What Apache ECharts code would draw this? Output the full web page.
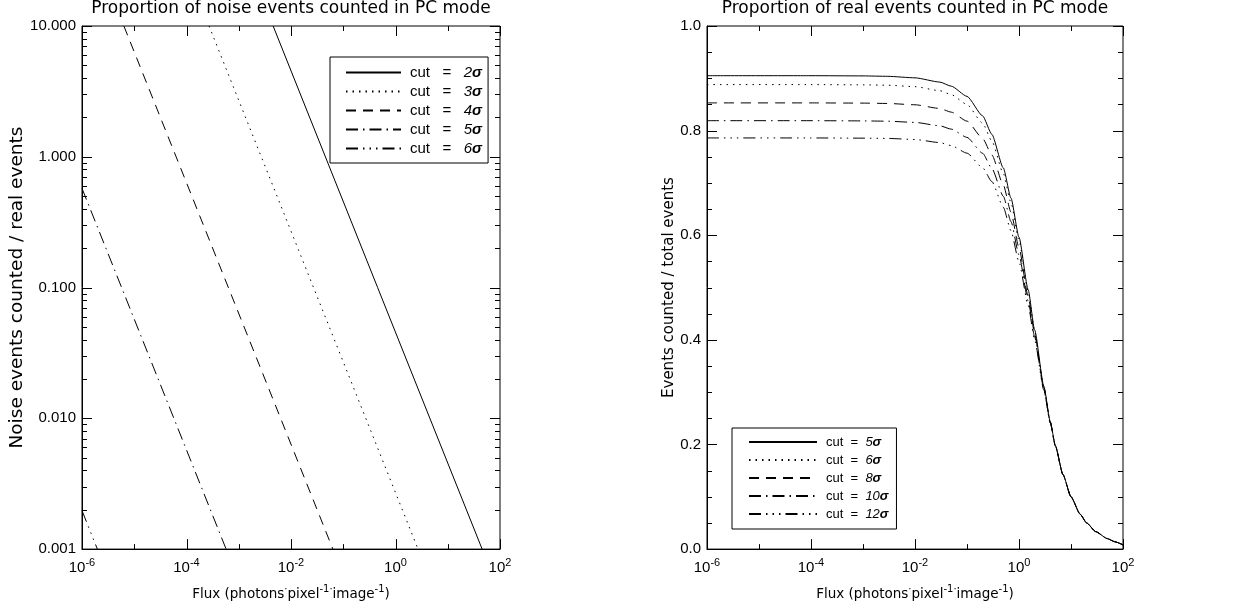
<!DOCTYPE html>
<html><head><meta charset="utf-8">
<script src="https://cdn.jsdelivr.net/npm/echarts@6/dist/echarts.min.js"></script>
<style>html,body{margin:0;padding:0;background:#fff}#c{width:1245px;height:609px}</style>
</head><body><div id="c"></div>
<script>
// ---------- data ----------
const titles = ['Proportion of noise events counted in PC mode', 'Proportion of real events counted in PC mode'];
const leftYName = 'Noise events counted / real events';
const rightYName = 'Events counted / total events';

// axis ranges
const xRange = [1e-6, 100];
const leftYRange = [0.001, 10];
const rightYRange = [0, 1];

// tick values
const xMajorTicks = [1e-6, 1e-4, 1e-2, 1, 100];
const xMinorTicks = [1e-5, 1e-3, 1e-1, 10];
const leftYMajorTicks = [0.001, 0.01, 0.1, 1, 10];
const leftYMinorTicks = [0.002,0.003,0.004,0.005,0.006,0.007,0.008,0.009,
  0.02,0.03,0.04,0.05,0.06,0.07,0.08,0.09,
  0.2,0.3,0.4,0.5,0.6,0.7,0.8,0.9,
  2,3,4,5,6,7,8,9];
const rightYMajorTicks = [0, 0.2, 0.4, 0.6, 0.8, 1.0];
const rightYMinorTicks = [0.05,0.1,0.15,0.25,0.3,0.35,0.45,0.5,0.55,0.65,0.7,0.75,0.85,0.9,0.95];

// left panel: noise / real ratio, straight lines in log-log (end points)
const noiseCuts = ['2', '3', '4', '5', '6'];
const noise2 = [[0.00455, 10], [45.5, 0.001]];
const noise3 = [[0.00027, 10], [2.7, 0.001]];
const noise4 = [[6.33e-6, 10], [0.0633, 0.001]];
const noise5 = [[1e-6, 0.573], [5.73e-4, 0.001]];
const noise6 = [[1e-6, 0.00197], [1.97e-6, 0.001]];

// right panel: fraction of real events counted
const realCuts = ['5', '6', '8', '10', '12'];
const realFlux = [1e-6, 1e-4, 1e-3, 3e-3, 0.01, 0.03, 0.05, 0.1, 0.2, 0.3, 0.5, 0.7, 1, 1.5, 2, 3, 4, 5, 7, 10, 15, 20, 30, 50, 70, 100];
const real5  = [0.905, 0.905, 0.9046, 0.9038, 0.9009, 0.8928, 0.8849, 0.8655, 0.8282, 0.7930, 0.7286, 0.6712, 0.5963, 0.4959, 0.4188, 0.3117, 0.2435, 0.1979, 0.1426, 0.1000, 0.0667, 0.0500, 0.0333, 0.0200, 0.0140, 0.0080];
const real6  = [0.888, 0.888, 0.8875, 0.8868, 0.8841, 0.8763, 0.8687, 0.8500, 0.8141, 0.7803, 0.7180, 0.6624, 0.5897, 0.4918, 0.4163, 0.3107, 0.2431, 0.1978, 0.1426, 0.1000, 0.0667, 0.0500, 0.0333, 0.0200, 0.0140, 0.0080];
const real8  = [0.853, 0.853, 0.8526, 0.8519, 0.8494, 0.8423, 0.8353, 0.8181, 0.7851, 0.7538, 0.6961, 0.6442, 0.5759, 0.4832, 0.4109, 0.3086, 0.2423, 0.1975, 0.1425, 0.1000, 0.0667, 0.0500, 0.0333, 0.0200, 0.0140, 0.0080];
const real10 = [0.819, 0.819, 0.8186, 0.8180, 0.8157, 0.8092, 0.8028, 0.7871, 0.7567, 0.7279, 0.6745, 0.6263, 0.5623, 0.4746, 0.4055, 0.3064, 0.2415, 0.1971, 0.1425, 0.0999, 0.0667, 0.0500, 0.0333, 0.0200, 0.0140, 0.0080];
const real12 = [0.786, 0.786, 0.7856, 0.7851, 0.7830, 0.7771, 0.7713, 0.7569, 0.7291, 0.7027, 0.6534, 0.6086, 0.5489, 0.4660, 0.4000, 0.3042, 0.2406, 0.1968, 0.1424, 0.0999, 0.0667, 0.0500, 0.0333, 0.0200, 0.0140, 0.0080];

// ---------- styling ----------
const fMain = '"DejaVu Sans", sans-serif';
const fTick = '"Liberation Sans", Arial, sans-serif';
const dashTypes = ['solid', [1.5, 5], [10, 7], [12, 5, 1.5, 5], [12, 5, 1.5, 5, 1.5, 5, 1.5, 5]];
const MAJ = 10, MIN = 5;

const noiseSets = [noise2, noise3, noise4, noise5, noise6];
const realSets = [real5, real6, real8, real10, real12];

const legendLabel = {};
noiseCuts.forEach(c => legendLabel['L' + c] = 'cut   =   {d|' + c + '}{s|σ}');
realCuts.forEach(c => legendLabel['R' + c] = 'cut  =  {d|' + c + '}{s|σ}');

function xTicks(idx, vals, len, yr) {
  return {
    type: 'custom', xAxisIndex: idx, yAxisIndex: idx, silent: true, z: 3,
    data: vals.map(v => [v, yr[0]]),
    renderItem: (p, api) => {
      const b = api.coord([api.value(0), yr[0]]);
      const t = api.coord([api.value(0), yr[1]]);
      const st = { stroke: '#000', lineWidth: 1 };
      const x = Math.round(b[0]) + 0.5;
      return { type: 'group', children: [
        { type: 'line', shape: { x1: x, y1: b[1], x2: x, y2: b[1] - len }, style: st },
        { type: 'line', shape: { x1: x, y1: t[1], x2: x, y2: t[1] + len }, style: st }
      ]};
    }
  };
}
function yTicks(idx, vals, len, xr) {
  return {
    type: 'custom', xAxisIndex: idx, yAxisIndex: idx, silent: true, z: 3,
    data: vals.map(v => [xr[0], v]),
    renderItem: (p, api) => {
      const l = api.coord([xr[0], api.value(1)]);
      const r = api.coord([xr[1], api.value(1)]);
      const st = { stroke: '#000', lineWidth: 1 };
      const y = Math.round(l[1]) + 0.5;
      return { type: 'group', children: [
        { type: 'line', shape: { x1: l[0], y1: y, x2: l[0] + len, y2: y }, style: st },
        { type: 'line', shape: { x1: r[0], y1: y, x2: r[0] - len, y2: y }, style: st }
      ]};
    }
  };
}

const series = [];
noiseSets.forEach((d, i) => series.push({
  name: 'L' + noiseCuts[i], type: 'line', xAxisIndex: 0, yAxisIndex: 0,
  data: d, symbol: 'none', showSymbol: false, clip: true,
  lineStyle: { color: '#000', width: 1, type: dashTypes[i] }, itemStyle: { color: '#000' }
}));
realSets.forEach((d, i) => series.push({
  name: 'R' + realCuts[i], type: 'line', xAxisIndex: 1, yAxisIndex: 1,
  data: realFlux.map((f, k) => [f, d[k]]), symbol: 'none', showSymbol: false, clip: true,
  smooth: 0.2, smoothMonotone: 'x',
  lineStyle: { color: '#000', width: 1, type: dashTypes[i] }, itemStyle: { color: '#000' }
}));
series.push(xTicks(0, xMajorTicks, MAJ, leftYRange), xTicks(0, xMinorTicks, MIN, leftYRange),
  yTicks(0, leftYMajorTicks, MAJ, xRange), yTicks(0, leftYMinorTicks, MIN, xRange),
  xTicks(1, xMajorTicks, MAJ, rightYRange), xTicks(1, xMinorTicks, MIN, rightYRange),
  yTicks(1, rightYMajorTicks, MAJ, xRange), yTicks(1, rightYMinorTicks, MIN, xRange));

const supRich = { sup: { fontSize: 11, lineHeight: 11, verticalAlign: 'top', fontFamily: fTick, color: '#000' } };
const nameRich = { sup: { fontSize: 10, lineHeight: 10, verticalAlign: 'top', fontFamily: fMain, color: '#000' } };

function xAxisOf(idx) {
  return {
    type: 'log', logBase: 10, gridIndex: idx, min: xRange[0], max: xRange[1],
    axisLine: { show: true, lineStyle: { color: '#000', width: 1 } },
    axisTick: { show: false }, splitLine: { show: false }, minorTick: { show: false },
    axisLabel: {
      margin: 8, color: '#000', fontSize: 15, lineHeight: 22, fontFamily: fTick, rich: supRich,
      formatter: v => { const e = Math.round(Math.log10(v)); return (e % 2 === 0) ? '10{sup|' + e + '}' : ''; }
    },
    name: 'Flux (photons{sup|·}pixel{sup|-1}{sup|·}image{sup|-1})', nameLocation: 'middle', nameGap: 34,
    nameTextStyle: { color: '#000', fontSize: 13.5, lineHeight: 20, fontFamily: fMain, rich: nameRich }
  };
}

function legendOf(names, left, top, iw, pad, fs) {
  return {
    data: names, left: left, top: top, orient: 'vertical', z: 10,
    itemWidth: iw, itemHeight: 14, itemGap: 4, padding: pad,
    borderColor: '#000', borderWidth: 1, backgroundColor: '#fff', selectedMode: false,
    itemStyle: { opacity: 0 },
    formatter: n => legendLabel[n],
    textStyle: { color: '#000', fontSize: fs, lineHeight: 14, fontFamily: fTick, padding: [0, 0, 0, 4],
      rich: {
        d: { fontSize: fs, lineHeight: 14, fontStyle: 'italic', fontFamily: fTick, color: '#000' },
        s: { fontSize: fs, lineHeight: 14, fontStyle: 'italic', fontWeight: 'bold', fontFamily: fTick, color: '#000' }
      } }
  };
}

const option = {
  animation: false,
  backgroundColor: '#fff',
  title: [
    { text: titles[0], left: 291, top: 0, padding: 0, textAlign: 'center', textStyle: { fontSize: 17, fontWeight: 'normal', color: '#000', fontFamily: fMain } },
    { text: titles[1], left: 915, top: 0, padding: 0, textAlign: 'center', textStyle: { fontSize: 17, fontWeight: 'normal', color: '#000', fontFamily: fMain } }
  ],
  grid: [
    { left: 82, top: 26, width: 418, height: 529, show: true, borderColor: '#000', borderWidth: 1, backgroundColor: 'transparent' },
    { left: 707, top: 26, width: 416, height: 529, show: true, borderColor: '#000', borderWidth: 1, backgroundColor: 'transparent' }
  ],
  xAxis: [xAxisOf(0), xAxisOf(1)],
  yAxis: [
    { type: 'log', logBase: 10, gridIndex: 0, min: leftYRange[0], max: leftYRange[1],
      axisLine: { show: true, lineStyle: { color: '#000' } }, axisTick: { show: false }, splitLine: { show: false },
      axisLabel: { margin: 6, color: '#000', fontSize: 15, fontFamily: fTick, formatter: v => Number(v).toFixed(3) },
      name: leftYName, nameLocation: 'middle', nameGap: 52,
      nameTextStyle: { color: '#000', fontSize: 18.5, fontFamily: fMain } },
    { type: 'value', gridIndex: 1, min: rightYRange[0], max: rightYRange[1], interval: 0.2,
      axisLine: { show: true, lineStyle: { color: '#000' } }, axisTick: { show: false }, splitLine: { show: false },
      axisLabel: { margin: 6, color: '#000', fontSize: 15, fontFamily: fTick, formatter: v => Number(v).toFixed(1) },
      name: rightYName, nameLocation: 'middle', nameGap: 27,
      nameTextStyle: { color: '#000', fontSize: 15, fontFamily: fMain } }
  ],
  legend: [
    legendOf(noiseCuts.map(c => 'L' + c), 330, 57, 55, [8, 6, 7, 15], 15),
    legendOf(realCuts.map(c => 'R' + c), 732, 428, 68, [7, 8, 8, 16], 13)
  ],
  series: series
};

const chart = echarts.init(document.getElementById('c'), null, { renderer: 'canvas' });
chart.setOption(option);
</script>
</body></html>
